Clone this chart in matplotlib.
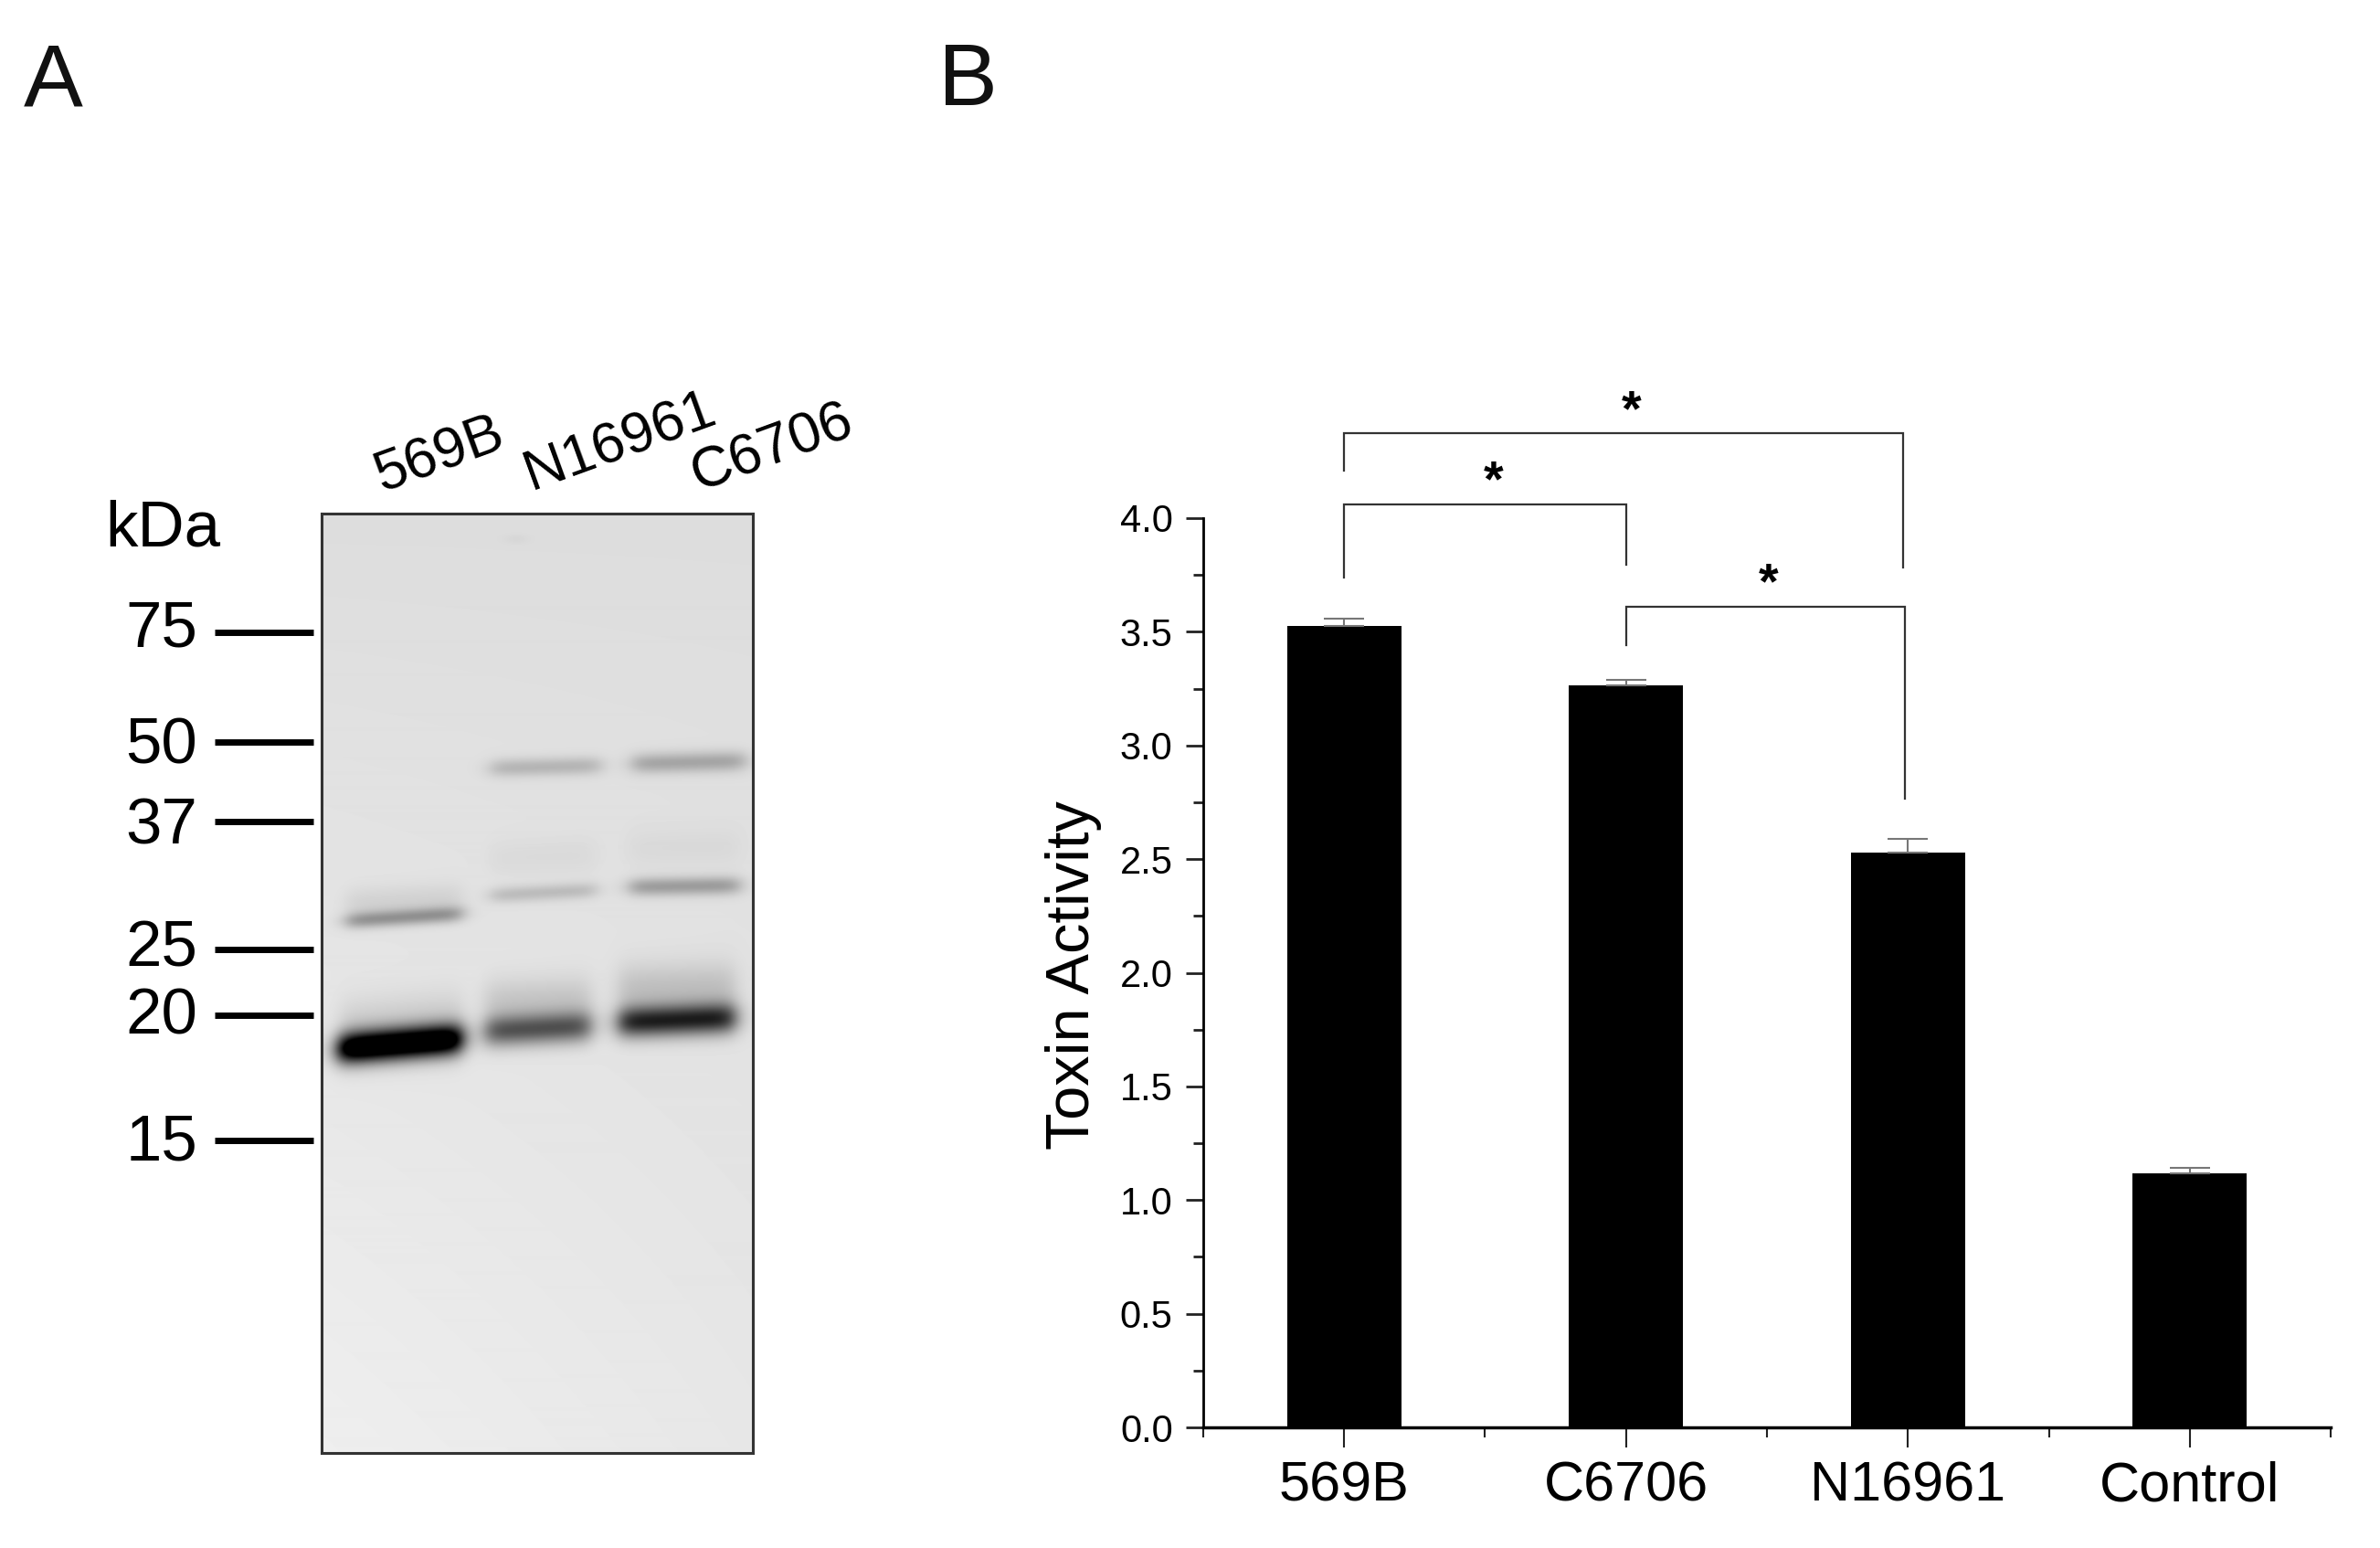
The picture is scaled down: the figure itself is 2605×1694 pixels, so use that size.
import numpy as np
import matplotlib
matplotlib.use('Agg')
import matplotlib.pyplot as plt

plt.rcParams['font.family'] = ['Liberation Sans', 'DejaVu Sans']

W, H = 2605, 1694

# panel B values
strains = ['569B', 'C6706', 'N16961', 'Control']
activity = [3.526, 3.264, 2.53, 1.118]
errors = [0.03, 0.025, 0.06, 0.025]

# brackets: x from, x to, height, left end, right end, star x, star y
brackets = [(0, 1.983, 4.375, 4.21, 3.783, 1.02, 4.467),
            (0, 1, 4.06, 3.74, 3.795, 0.53, 4.157),
            (1, 1.99, 3.61, 3.44, 2.766, 1.505, 3.707)]

# panel A ladder and lanes
ladder = ['75', '50', '37', '25', '20', '15']
ladder_y = [692, 812, 899, 1039, 1111, 1248]
ladder_text_y = [690, 818, 906, 1039, 1113, 1252]
lanes = ['569B', 'N16961', 'C6706']
lane_xy = [(481, 498), (679, 484), (846, 491)]

# blot bands: left, right, y, darkness, thickness, tilt
bands = [(370, 505, 1148, 1.15, 17, -11),
         (372, 505, 1130, 0.12, 34, -10),
         (379, 505, 1008, 0.30, 9, -8),
         (379, 505, 990, 0.07, 18, -6),
         (537, 657, 841, 0.17, 10, -3),
         (537, 652, 980, 0.15, 9, -6),
         (537, 652, 940, 0.03, 20, -4),
         (531, 646, 1129, 0.55, 17, -6),
         (531, 646, 1098, 0.12, 26, -4),
         (692, 815, 836, 0.23, 11, -3),
         (689, 809, 971, 0.27, 10, -2),
         (689, 809, 929, 0.03, 22, -2),
         (677, 804, 1119, 0.75, 17, -5),
         (677, 804, 1084, 0.14, 28, -3),
         (560, 570, 590, 0.05, 5, 0)]


def axes_px(fig, left, top, right, bottom):
    return fig.add_axes([left / W, 1 - bottom / H, (right - left) / W, (bottom - top) / H])


def blot_image(x0, x1, y0, y1):
    xx, yy = np.meshgrid(np.arange(x0, x1), np.arange(y0, y1))
    img = 0.865 + 0.04 * (yy - y0) / (y1 - y0) + 0.03 * (x1 - xx) / (x1 - x0) * (yy - y0) / (y1 - y0)
    for left, right, y, dark, thick, tilt in bands:
        t = (xx - left) / (right - left)
        across = 1 / (1 + np.exp(-(xx - left) / 6)) * 1 / (1 + np.exp((xx - right) / 6))
        along = np.exp(-((yy - y - tilt * t) / thick) ** 2)
        img = img - dark * across * along
    return np.clip(img, 0, 1)


fig = plt.figure(figsize=(W / 100, H / 100), dpi=100, facecolor='white')

# panel A
gel = axes_px(fig, 352, 562, 824, 1590)
gel.imshow(blot_image(352, 824, 562, 1590), cmap='gray', vmin=0, vmax=1,
           extent=(352, 824, 1590, 562), aspect='auto', interpolation='bilinear')
gel.set_xticks([])
gel.set_yticks([])
for s in gel.spines.values():
    s.set_linewidth(2.2)
    s.set_color('#333333')

overlay = fig.add_axes([0, 0, 1, 1], facecolor='none')
overlay.set_xlim(0, W)
overlay.set_ylim(H, 0)
overlay.axis('off')
for lab, y, ty in zip(ladder, ladder_y, ladder_text_y):
    overlay.plot([235, 343], [y, y], color='black', lw=5, solid_capstyle='butt')
    overlay.text(216, ty, lab, ha='right', va='center', fontsize=51)
overlay.text(178, 580, 'kDa', ha='center', va='center', fontsize=51)
for lab, (x, y) in zip(lanes, lane_xy):
    overlay.text(x, y, lab, ha='center', va='center', rotation=20,
                 rotation_mode='anchor', fontsize=45)
overlay.text(58, 90, 'A', ha='center', va='center', fontsize=70, color='#111111')
overlay.text(1059, 90, 'B', ha='center', va='center', fontsize=70, color='#111111')

# panel B
ax = axes_px(fig, 1317, 567, 2551, 1562)
x = np.arange(len(strains))
ax.bar(x, activity, width=0.405, color='black')
ax.errorbar(x, activity, yerr=[np.zeros(4), errors], fmt='none', ecolor='#777777',
            elinewidth=1.5, capsize=16, capthick=1.5)
ax.set_xlim(-0.5, 3.5)
ax.set_ylim(0, 4)
ax.spines['top'].set_visible(False)
ax.spines['right'].set_visible(False)
ax.spines['left'].set_linewidth(2)
ax.spines['bottom'].set_linewidth(2.5)
ax.set_xticks(x)
ax.set_xticklabels(strains)
ax.set_xticks(np.arange(-0.5, 4), minor=True)
ax.set_yticks(np.arange(0, 4.5, 0.5))
ax.set_yticks(np.arange(0.25, 4, 0.5), minor=True)
ax.tick_params(axis='y', which='major', length=14, width=2, labelsize=30, pad=10, color='#222222')
ax.tick_params(axis='y', which='minor', length=8, width=2, color='#222222')
ax.tick_params(axis='x', which='major', length=16, width=1.5, labelsize=44, pad=10, color='#222222')
ax.tick_params(axis='x', which='minor', length=8, width=1.5, color='#222222')
ax.set_ylabel('Toxin Activity', fontsize=48)
ax.yaxis.set_label_coords(-0.09, 0.497)

for a, b, top, end_a, end_b, sx, sy in brackets:
    ax.plot([a, a, b, b], [end_a, top, top, end_b], color='#333333', lw=1.6,
            clip_on=False, solid_joinstyle='miter')
    ax.text(sx, sy, '*', ha='center', va='center', fontsize=40, clip_on=False,
            fontweight='bold')

fig.savefig('out.png', dpi=100)
